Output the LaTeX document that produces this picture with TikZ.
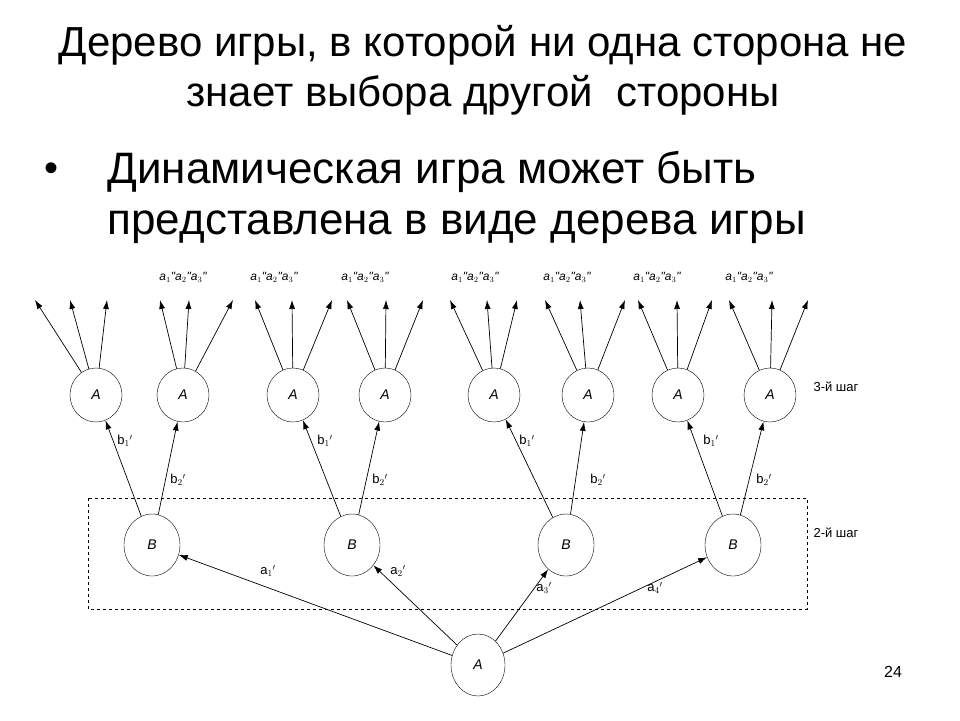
\documentclass[tikz,border=0pt]{standalone}
\usepackage{fontspec}
\setmainfont{Liberation Sans}
\usetikzlibrary{shapes.geometric,arrows.meta}
\begin{document}
\begin{tikzpicture}[x=1pt,y=-1pt,
  st/.style={draw,ellipse,minimum width=54pt,minimum height=58pt,inner sep=0pt,font=\fontsize{14}{14}\selectfont\itshape},
  arr/.style={-{Latex[length=9pt,width=6pt]},line width=0.7pt},
  lab/.style={font=\fontsize{13}{13}\selectfont},
  top/.style={font=\fontsize{12}{12}\selectfont\itshape}]
\useasboundingbox (0,0) rectangle (960,720);
\node[font=\fontsize{42}{50}\selectfont,align=center] (t) at (483,70) {Дерево игры, в которой ни одна сторона не\\знает выбора другой\ \ стороны};
\node[font=\fontsize{40}{40}\selectfont] (bul) at (52,172) {•};
\node[font=\fontsize{44}{51}\selectfont,align=left,anchor=west] (bt) at (104,197) {Динамическая игра может быть\\представлена в виде дерева игры};
\draw[dashed,line width=0.6pt] (88,498) rectangle (807,609);
\node[lab,anchor=west] (s3) at (810,387) {3-й шаг};
\node[lab,anchor=west] (s2) at (810,533) {2-й шаг};
\node[font=\fontsize{16}{16}\selectfont] (pg) at (893,672) {24};
% top labels
\foreach \x/\n in {183/1,274/2,365/3,475/4,567/5,657/6,749/7}
  \node[top] (L\n) at (\x,277) {$\mathit{a}_1$\textquotedbl$\mathit{a}_2$\textquotedbl$\mathit{a}_3$\textquotedbl};
% A nodes
\foreach \x/\n in {96/1,183/2,293/3,385/4,494/5,588/6,678/7,770/8}
  \node[st,minimum width=52pt,minimum height=54pt] (A\n) at (\x,395) {A};
\foreach \x/\n in {152/1,352/2,566/3,733/4}
  \node[st,minimum width=56pt,minimum height=62pt] (B\n) at (\x,545) {B};
\node[st,minimum width=54pt,minimum height=62pt] (R) at (478,665) {A};
% leaf coordinates
\foreach \n/\a/\b/\c in {1/35/70/107,2/160/189/233,3/255/292/332,4/347/386/423,5/450/487/517,6/545/580/625,7/638/677/712,8/729/772/808}{
  \coordinate (p\n a) at (\a,300);
  \coordinate (p\n b) at (\b,300);
  \coordinate (p\n c) at (\c,300);
  \draw[arr] (A\n) -- (p\n a);
  \draw[arr] (A\n) -- (p\n b);
  \draw[arr] (A\n) -- (p\n c);
}
\foreach \b/\l/\r in {1/1/2,2/3/4,3/5/6,4/7/8}{
  \draw[arr] (B\b) -- (A\l);
  \draw[arr] (B\b) -- (A\r);
}
\foreach \b in {1,2,3,4} \draw[arr] (R) -- (B\b);
\foreach \x/\n in {125/1,325/1,527/1,711/1,178/2,380/2,598/2,764/2}
  \node[lab] at (\x,\ifnum\n=1 441\else 480\fi) {b$_\n$$'$};
\node[lab] (la1) at (268,571) {a$_1$$'$};
\node[lab] (la2) at (398,571) {a$_2$$'$};
\node[lab] (la3) at (544,588) {a$_3$$'$};
\node[lab] (la4) at (655,588) {a$_4$$'$};
\end{tikzpicture}
\end{document}
